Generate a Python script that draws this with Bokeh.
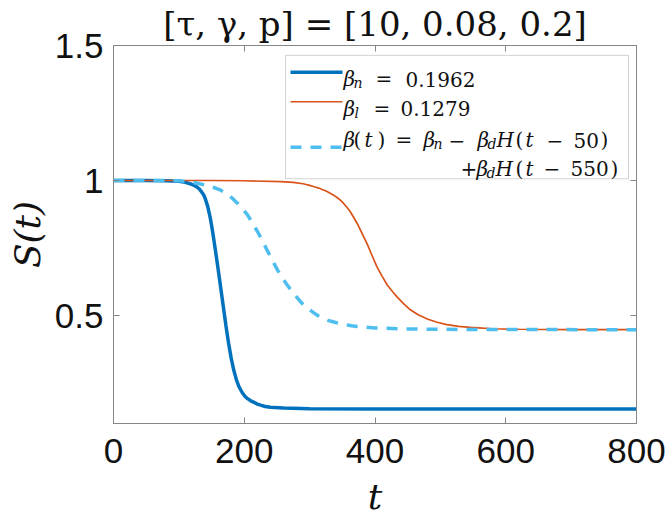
import numpy as np
from bokeh.plotting import figure
from bokeh.models import Range1d, LinearAxis, FixedTicker, Label, BoxAnnotation
from bokeh.embed import file_html
from bokeh.resources import INLINE

# ---- data ----
t_n = [0, 50, 80, 100, 110, 117, 124, 128, 132, 135, 138, 140, 144, 148, 152, 156, 160, 164, 168,
       172, 176, 180, 184, 188, 192, 197, 201, 205, 210, 215, 220, 225, 232, 240, 260, 300, 400,
       600, 800]
S_n = [1.0, 1.0, 0.999, 0.997, 0.993, 0.988, 0.981, 0.975, 0.967, 0.957, 0.946, 0.935, 0.905,
       0.862, 0.805, 0.74, 0.672, 0.603, 0.532, 0.462, 0.398, 0.342, 0.297, 0.262, 0.236, 0.214,
       0.201, 0.192, 0.184, 0.178, 0.172, 0.168, 0.163, 0.160, 0.157, 0.155, 0.154, 0.154, 0.154]

t_l = [0, 150, 200, 256, 275, 290, 300, 307, 314, 320, 326, 332, 337, 342, 347, 352, 357, 362,
       367, 373, 380, 388, 395, 403, 411, 419, 427, 434, 444, 454, 466, 480, 495, 510, 528, 546,
       565, 580, 620, 700, 800]
S_l = [1.0, 1.0, 0.999, 0.996, 0.993, 0.988, 0.982, 0.977, 0.972, 0.966, 0.96, 0.952, 0.945,
       0.937, 0.927, 0.915, 0.901, 0.885, 0.865, 0.84, 0.805, 0.765, 0.725, 0.68, 0.645, 0.612,
       0.588, 0.568, 0.543, 0.521, 0.503, 0.487, 0.475, 0.466, 0.46, 0.456, 0.453, 0.451, 0.449,
       0.448, 0.448]

t_d = [0, 60, 100, 115, 128, 145, 155, 164, 171, 178, 184, 190, 197, 205, 212, 220, 228, 235, 243,
       251, 258, 266, 276, 286, 296, 307, 313, 320, 328, 337, 346, 355, 364, 373, 400, 450, 500,
       550, 650, 800]
S_d = [1.0, 1.0, 0.999, 0.996, 0.99, 0.98, 0.973, 0.964, 0.954, 0.942, 0.929, 0.915, 0.896, 0.873,
       0.845, 0.812, 0.776, 0.742, 0.704, 0.668, 0.64, 0.612, 0.58, 0.551, 0.528, 0.509, 0.499,
       0.491, 0.482, 0.476, 0.47, 0.466, 0.462, 0.459, 0.454, 0.45, 0.449, 0.448, 0.448, 0.447]

x_ticks = [0, 200, 400, 600, 800]
y_ticks = [0.5, 1, 1.5]
y_tick_labels = ["0.5", "1", "1.5"]

title_text = "[τ, γ, p] = [10, 0.08, 0.2]"
x_label = "t"
y_label = "S(t)"

# ---- layout ----
X0, X1 = 0, 800
Y0, Y1 = 0.1, 1.5
W, H = 666, 519
BL, BR, BT, BB = 113, 30, 42, 94
FW = W - BL - BR
FH = H - BT - BB

def px(xo):  # picture pixel -> data x
    return X0 + (xo - BL) / FW * (X1 - X0)

def py(yo):  # picture pixel -> data y
    return Y1 - (yo - BT) / FH * (Y1 - Y0)

p = figure(width=W, height=H, output_backend="svg", toolbar_location=None,
           x_range=Range1d(X0, X1), y_range=Range1d(Y0, Y1),
           min_border_left=BL, min_border_right=BR, min_border_top=BT, min_border_bottom=BB)
p.grid.visible = False
p.background_fill_color = "white"
p.border_fill_color = "white"
p.outline_line_color = "#868686"
p.outline_line_width = 1

AX = "#868686"
TXT = "#111111"
SANS = "Liberation Sans"
SERIF = "DejaVu Serif"

p.title.text = title_text
p.title.text_font = SERIF
p.title.text_font_size = "34px"
p.title.text_font_style = "normal"
p.title.text_color = TXT
p.title.align = "center"
p.title.standoff = 3

for ax in (p.xaxis[0], p.yaxis[0]):
    ax.axis_line_color = AX
    ax.major_tick_line_color = AX
    ax.major_tick_in = 6
    ax.major_tick_out = 0
    ax.minor_tick_line_color = None
    ax.major_label_text_font = SANS
    ax.major_label_text_font_size = "35px"
    ax.major_label_text_color = TXT
    ax.axis_label_text_font = SERIF
    ax.axis_label_text_font_style = "italic"
    ax.axis_label_text_color = TXT

p.xaxis[0].ticker = FixedTicker(ticks=x_ticks)
p.yaxis[0].ticker = FixedTicker(ticks=y_ticks)
p.yaxis[0].major_label_overrides = {v: s for v, s in zip(y_ticks, y_tick_labels)}
p.xaxis[0].major_label_standoff = 15
p.yaxis[0].major_label_standoff = 10
p.xaxis[0].axis_label = x_label
p.xaxis[0].axis_label_text_font_size = "36px"
p.xaxis[0].axis_label_standoff = 10
p.yaxis[0].axis_label = y_label
p.yaxis[0].axis_label_text_font_size = "36px"
p.yaxis[0].axis_label_standoff = 4

# mirrored ticks on top and right
top_ax = LinearAxis(ticker=FixedTicker(ticks=x_ticks))
right_ax = LinearAxis(ticker=FixedTicker(ticks=y_ticks))
for ax in (top_ax, right_ax):
    ax.axis_line_color = AX
    ax.major_tick_line_color = AX
    ax.major_tick_in = 6
    ax.major_tick_out = 0
    ax.minor_tick_line_color = None
    ax.major_label_text_font_size = "0px"
    ax.major_label_standoff = 0
    ax.major_label_text_alpha = 0
p.add_layout(top_ax, "above")
p.add_layout(right_ax, "right")

BLUE = "#0072BD"
ORANGE = "#D95319"
LBLUE = "#4DBEEE"

# legend box (under lines)
box = BoxAnnotation(left=px(285), right=px(628), top=py(52), bottom=py(177),
                    fill_color="white", fill_alpha=1.0, line_color="#6e6e6e", line_width=1,
                    level="underlay")
p.add_layout(box)

p.line(t_n, S_n, line_color=BLUE, line_width=3.5)
p.line(t_l, S_l, line_color=ORANGE, line_width=1.7)
p.line(t_d, S_d, line_color=LBLUE, line_width=3.5, line_dash="11 9")

# legend keys
p.line([px(290), px(342)], [py(69), py(69)], line_color=BLUE, line_width=3.5)
p.line([px(290), px(342)], [py(99), py(99)], line_color=ORANGE, line_width=1.7)
p.line([px(290), px(342)], [py(145), py(145)], line_color=LBLUE, line_width=3.5, line_dash="11 9")

def tok(text, xo, yo, size=20, italic=False):
    p.add_layout(Label(x=px(xo), y=py(yo), text=text, text_font=SERIF,
                       text_font_size=f"{size}px", text_font_style="italic" if italic else "normal",
                       text_color=TXT, text_align="left", text_baseline="alphabetic"))

SUB = 14
# row 1
tok("β", 343, 76, italic=True); tok("n", 353, 80, size=SUB, italic=True)
tok("=", 375, 76); tok("0.1962", 405, 76)
# row 2
tok("β", 343, 106, italic=True); tok("l", 354, 110, size=SUB, italic=True)
tok("=", 373, 106); tok("0.1279", 400, 106)
# row 3
r3 = 138
tok("β", 343, r3, italic=True); tok("(", 353, r3); tok("t", 364, r3, italic=True); tok(")", 377, r3)
tok("=", 395, r3)
tok("β", 423, r3, italic=True); tok("n", 433, r3 + 4, size=SUB, italic=True)
tok("−", 448, r3)
tok("β", 477, r3, italic=True); tok("d", 487, r3 + 4, size=SUB, italic=True)
tok("H", 496, r3, italic=True); tok("(", 515, r3); tok("t", 525, r3, italic=True)
tok("−", 546, r3); tok("50", 573, r3); tok(")", 600, r3)
# row 4
r4 = 167
tok("+", 460, r4); tok("β", 476, r4, italic=True); tok("d", 486, r4 + 4, size=SUB, italic=True)
tok("H", 495, r4, italic=True); tok("(", 515, r4); tok("t", 525, r4, italic=True)
tok("−", 543, r4); tok("550", 570, r4); tok(")", 610, r4)

open("out.html", "w").write(file_html(p, INLINE))
